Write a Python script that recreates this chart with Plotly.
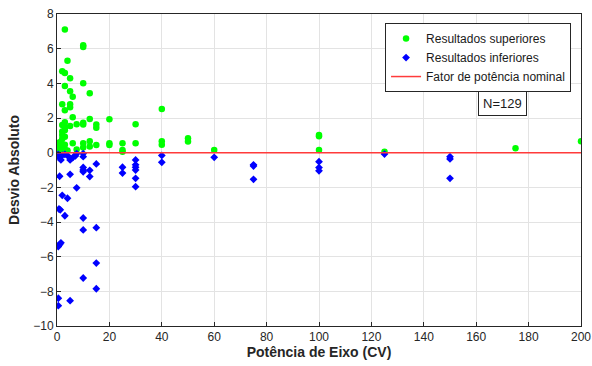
import plotly.graph_objects as go

# Potência de eixo (CV) e desvio absoluto: resultados acima do nominal
sup_cv = [3, 10, 10, 4, 2, 3, 5, 10, 3, 5, 12.5, 6, 2, 5, 5, 3, 40, 6, 12.5, 20,
          3, 2, 3, 5, 7.5, 10, 10, 15, 15, 30, 2, 3, 2, 3, 2, 1, 2, 3, 1, 0.5,
          2, 3, 1, 0.5, 4, 6, 7.5, 10, 10, 12.5, 12.5, 15, 20, 20, 25, 25, 25, 30,
          40, 40, 50, 50, 60, 100, 100, 100, 125, 175, 200]
sup_dev = [7.1, 6.2, 6.1, 5.3, 4.7, 4.6, 4.3, 4.0, 3.85, 3.55, 3.43, 3.23, 2.8, 2.8,
           2.62, 2.45, 2.52, 2.04, 1.94, 1.93, 1.75, 1.6, 1.45, 1.54, 1.64, 1.73,
           1.62, 1.62, 1.44, 1.64, 1.22, 1.3, 1.02, 0.92, 0.8, 0.6, 0.5, 0.45, 0.35,
           0.3, 0.25, 0.18, 0.12, 0.08, 0.12, 0.54, 0.18, 0.54, 0.3, 0.66, 0.35,
           0.44, 0.54, 0.44, 0.54, 0.16, 0.06, 0.54, 0.66, 0.46, 0.83, 0.65, 0.16,
           1.02, 0.94, 0.16, 0.06, 0.25, 0.66]

# Resultados abaixo do nominal
inf_cv = [0.5, 1, 1, 1.5, 2, 4, 5, 6, 7, 7.5, 10, 10, 10, 10, 10, 12.5, 12.5, 15,
          1, 5, 25, 25, 30, 30, 30, 30, 30, 30, 40, 40, 60, 75, 75, 75, 100, 100,
          100, 125, 150, 150, 150, 7.5, 2, 4, 0.75, 1.25, 3, 10, 10, 15, 0.5, 1,
          1.5, 15, 10, 15, 0.5, 0.5, 5, 3]
inf_dev = [-0.1, -0.2, -0.3, -0.42, -0.15, -0.17, -0.42, -0.29, -0.19, -0.05, -0.05,
           -0.23, -0.85, -1.0, -1.1, -1.02, -1.38, -0.65, -1.36, -1.25, -0.84, -1.18,
           -0.42, -0.7, -0.84, -1.0, -1.48, -1.96, -0.16, -0.56, -0.27, -0.7, -0.77,
           -1.54, -0.52, -0.86, -1.05, -0.08, -0.23, -0.36, -1.48, -2.03, -2.46,
           -2.63, -3.25, -3.3, -3.64, -3.77, -4.46, -4.33, -5.42, -5.3, -5.2, -6.37,
           -7.23, -7.85, -8.4, -8.83, -8.54, -0.1]

# Linha de referência do fator de potência nominal
nominal_cv = [0, 200]
nominal_dev = [0, 0]

x_ticks = list(range(0, 201, 20))
y_ticks = list(range(-10, 9, 2))

FONT = "Liberation Sans, Arial, sans-serif"
TICK_COLOR = "#262626"

fig = go.Figure()
fig.add_trace(go.Scatter(
    x=sup_cv, y=sup_dev, mode="markers", name="Resultados superiores",
    marker=dict(symbol="circle", size=6.5, color="#00ff00", line=dict(width=0)),
))
fig.add_trace(go.Scatter(
    x=inf_cv, y=inf_dev, mode="markers", name="Resultados inferiores",
    marker=dict(symbol="diamond", size=6, color="#0000ff", line=dict(width=0)),
))
fig.add_trace(go.Scatter(
    x=nominal_cv, y=nominal_dev, mode="lines", name="Fator de potência nominal",
    line=dict(color="#ff3b3b", width=1.5),
))

fig.add_annotation(
    x=0.851, y=0.712, xref="paper", yref="paper", text="N=129", showarrow=False,
    xanchor="center", yanchor="middle",
    font=dict(family=FONT, size=13, color="#1a1a1a"),
    bordercolor="#262626", borderwidth=1, borderpad=4, bgcolor="white",
)

axis_common = dict(
    showgrid=True, gridcolor="#e3e3e3", gridwidth=1, zeroline=False,
    showline=True, linecolor="#262626", linewidth=1, mirror=True,
    ticks="inside", ticklen=4, tickcolor="#262626",
    tickfont=dict(family=FONT, size=12, color=TICK_COLOR),
    automargin=False,
)

fig.update_layout(
    width=592, height=366,
    margin=dict(l=57, r=11, t=14, b=40),
    paper_bgcolor="white", plot_bgcolor="white",
    showlegend=True,
    legend=dict(
        x=0.981, y=0.971, xanchor="right", yanchor="top",
        bgcolor="white", bordercolor="#262626", borderwidth=1,
        font=dict(family=FONT, size=12, color="#1a1a1a"),
        itemwidth=30, tracegroupgap=0,
    ),
    xaxis=dict(
        range=[0, 200], tickvals=x_ticks,
        title=dict(text="<b>Potência de Eixo (CV)</b>", standoff=2,
                   font=dict(family=FONT, size=14, color=TICK_COLOR)),
        **axis_common,
    ),
    yaxis=dict(
        range=[-10, 8], tickvals=y_ticks,
        title=dict(text="<b>Desvio Absoluto</b>", standoff=10,
                   font=dict(family=FONT, size=14, color=TICK_COLOR)),
        **axis_common,
    ),
)

fig.write_html("out.html")
